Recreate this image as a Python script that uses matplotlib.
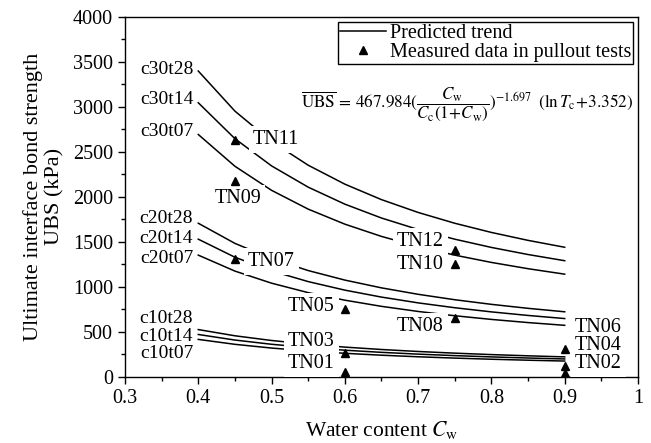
import matplotlib
matplotlib.use("Agg")
import matplotlib.pyplot as plt
from matplotlib.lines import Line2D

plt.rcParams['font.family'] = ['Liberation Serif', 'DejaVu Serif']
plt.rcParams['mathtext.fontset'] = 'stix'

# Water content grid on which the predicted curves were read
cw = [0.40, 0.45, 0.50, 0.55, 0.60, 0.65, 0.70, 0.75, 0.80, 0.85, 0.90]

curve_names = ['c10t07', 'c10t14', 'c10t28', 'c20t07', 'c20t14', 'c20t28',
               'c30t07', 'c30t14', 'c30t28']
c10t07 = [417.5, 362.8, 321.4, 289.0, 263.1, 242.0, 224.5, 209.8, 197.2, 186.4, 177.0]
c10t14 = [472.2, 410.3, 363.4, 326.8, 297.6, 273.7, 253.9, 237.3, 223.1, 210.8, 200.2]
c10t28 = [526.7, 457.7, 405.4, 364.6, 332.0, 305.3, 283.3, 264.7, 248.8, 235.2, 223.3]
c20t07 = [1353.5, 1176.2, 1041.9, 936.9, 853.1, 784.6, 727.9, 680.2, 639.5, 604.4, 573.9]
c20t14 = [1530.6, 1330.1, 1178.2, 1059.5, 964.7, 887.3, 823.2, 769.2, 723.1, 683.5, 649.0]
c20t28 = [1707.6, 1484.0, 1314.5, 1182.1, 1076.3, 989.9, 918.4, 858.1, 806.8, 762.6, 724.1]
c30t07 = [2693.3, 2340.5, 2073.2, 1864.3, 1697.5, 1561.3, 1448.5, 1353.4, 1272.4, 1202.7, 1142.0]
c30t14 = [3045.8, 2646.8, 2344.5, 2108.3, 1919.7, 1765.6, 1638.1, 1530.5, 1438.9, 1360.1, 1291.4]
c30t28 = [3398.1, 2952.9, 2615.6, 2352.1, 2141.7, 1969.8, 1827.5, 1707.5, 1605.4, 1517.4, 1440.8]
curves = [c10t07, c10t14, c10t28, c20t07, c20t14, c20t28, c30t07, c30t14, c30t28]
# label y positions for curve names (left of the curves)
curve_label_y = [262, 455, 650, 1315, 1535, 1760, 2722, 3078, 3411]

# measured data in pullout tests
test_names = ['TN01', 'TN02', 'TN03', 'TN04', 'TN05', 'TN06',
              'TN07', 'TN08', 'TN09', 'TN10', 'TN11', 'TN12']
test_cw = [0.60, 0.90, 0.60, 0.90, 0.60, 0.90, 0.45, 0.75, 0.45, 0.75, 0.45, 0.75]
test_ubs = [50, 44, 265, 122, 760, 311, 1310, 650, 2180, 1260, 2630, 1410]
# label positions for the test names
test_label_x = [0.554, 0.946, 0.554, 0.946, 0.554, 0.946, 0.50, 0.703, 0.454, 0.703, 0.506, 0.703]
test_label_y = [150, 150, 390, 345, 778, 550, 1280, 556, 1978, 1244, 2633, 1500]

fig = plt.figure(figsize=(6.51, 4.43), dpi=100)
ax = fig.add_axes([0.192, 0.149, 0.788, 0.813])

for name, ys, ly in zip(curve_names, curves, curve_label_y):
    ax.plot(cw, ys, color='black', lw=1.1, zorder=2)
    ax.text(0.393, ly, name, ha='right', va='center', fontsize=14, zorder=4)

ax.plot(test_cw, test_ubs, linestyle='none', marker='^', color='black',
        markersize=5.5, zorder=5)

for name, lx, ly in zip(test_names, test_label_x, test_label_y):
    # white patch under the label breaks the curves like in the original
    ax.text(lx, ly, name, ha='center', va='center', fontsize=14.5, zorder=3,
            color='white',
            bbox=dict(boxstyle='square,pad=0.2', fc='white', ec='none'))
    ax.text(lx, ly, name, ha='center', va='center', fontsize=14.5, zorder=4)

ax.text(0.993, 3030,
        r'$\overline{\mathrm{UBS}}\,=\,467.984(\dfrac{C_\mathrm{w}}{C_\mathrm{c}(1\!+\!C_\mathrm{w})})^{-1.697}\;\;(\ln T_\mathrm{c}\!+\!3.352)$',
        ha='right', va='center', fontsize=12.3, zorder=4)

handles = [Line2D([], [], color='black', lw=1.1),
           Line2D([], [], color='black', marker='^', linestyle='none', markersize=5.5)]
leg = ax.legend(handles, ['Predicted trend', 'Measured data in pullout tests'],
                loc='upper right', bbox_to_anchor=(0.991, 0.987), fontsize=14.5,
                frameon=True, fancybox=False, edgecolor='black', framealpha=1,
                borderpad=0.1, labelspacing=0.0, handlelength=2.3,
                handletextpad=0.2, borderaxespad=0.0)
leg.get_frame().set_linewidth(1.0)

ax.set_xlim(0.3, 1.0)
ax.set_ylim(0, 4000)
ax.set_xticks([0.3, 0.4, 0.5, 0.6, 0.7, 0.8, 0.9, 1.0])
ax.set_xticklabels(['0.3', '0.4', '0.5', '0.6', '0.7', '0.8', '0.9', '1'])
ax.set_xticks([0.35, 0.45, 0.55, 0.65, 0.75, 0.85, 0.95], minor=True)
ax.set_yticks(range(0, 4001, 500))
ax.set_yticks(range(250, 4000, 500), minor=True)
ax.tick_params(axis='both', which='major', direction='out', length=5,
               labelsize=14.5, width=1)
ax.tick_params(axis='both', which='minor', direction='out', length=3, width=1)
for s in ax.spines.values():
    s.set_linewidth(1.0)

ax.set_xlabel(r'Water content $C_\mathrm{w}$', fontsize=15.5, labelpad=8)
ax.set_ylabel('Ultimate interface bond strength\nUBS (kPa)', fontsize=16,
              linespacing=1.15, labelpad=6)

fig.savefig('out.png', dpi=100)
